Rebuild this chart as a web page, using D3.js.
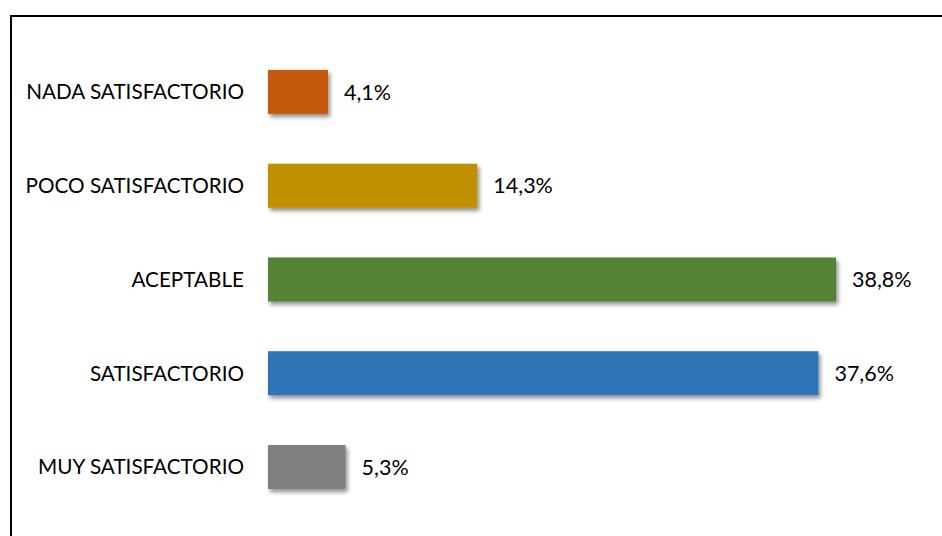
<!DOCTYPE html>
<html>
<head>
<meta charset="utf-8">
<script src="https://cdn.jsdelivr.net/npm/d3@7"></script>
<style>
  html, body { margin: 0; padding: 0; background: #fff; }
  svg { display: block; }
</style>
</head>
<body>
<svg id="chart"></svg>
<script>
// --- DATA ---
const categories = ["NADA SATISFACTORIO", "POCO SATISFACTORIO", "ACEPTABLE", "SATISFACTORIO", "MUY SATISFACTORIO"];
const values = [4.1, 14.3, 38.8, 37.6, 5.3];
const valueLabels = ["4,1%", "14,3%", "38,8%", "37,6%", "5,3%"];
const colors = ["#C55A11", "#BF9000", "#548235", "#2E75B6", "#7F7F7F"];

const width = 942, height = 536;
const svg = d3.select("#chart").attr("width", width).attr("height", height);

// shadow under the bars
const defs = svg.append("defs");
defs.append("filter").attr("id", "shadow")
    .attr("x", "-10%").attr("y", "-20%").attr("width", "130%").attr("height", "160%")
  .append("feDropShadow")
    .attr("dx", 2).attr("dy", 3).attr("stdDeviation", 2)
    .attr("flood-color", "#000").attr("flood-opacity", 0.45);

// frame (only top and left edges are inside the picture)
svg.append("path")
    .attr("d", `M11,${height} L11,16 L${width},16`)
    .attr("fill", "none").attr("stroke", "#000").attr("stroke-width", 2);

// --- SCALES ---
const x = d3.scaleLinear().domain([0, 38.8]).range([268, 836]);
const y = d3.scaleBand().domain(categories).range([45.1, 513.9])
    .paddingInner(0.53).paddingOuter(0.265);

const rows = categories.map((c, i) => ({ cat: c, v: values[i], lab: valueLabels[i], col: colors[i] }));

// --- BARS ---
svg.append("g").selectAll("rect").data(rows).join("rect")
    .attr("x", x(0))
    .attr("y", d => y(d.cat))
    .attr("width", d => x(d.v) - x(0))
    .attr("height", y.bandwidth())
    .attr("fill", d => d.col)
    .attr("filter", "url(#shadow)");

const font = "Lato, 'Liberation Sans', sans-serif";

// category labels
svg.append("g").selectAll("text").data(rows).join("text")
    .attr("x", x(0) - 24)
    .attr("y", d => y(d.cat) + y.bandwidth() / 2)
    .attr("dy", "0.35em")
    .attr("text-anchor", "end")
    .attr("font-family", font).attr("font-size", 20.7).attr("fill", "#000")
    .text(d => d.cat);

// value labels
svg.append("g").selectAll("text").data(rows).join("text")
    .attr("x", d => x(d.v) + 16)
    .attr("y", d => y(d.cat) + y.bandwidth() / 2)
    .attr("dy", "0.35em")
    .attr("font-family", font).attr("font-size", 21.5).attr("fill", "#000")
    .text(d => d.lab);
</script>
</body>
</html>
